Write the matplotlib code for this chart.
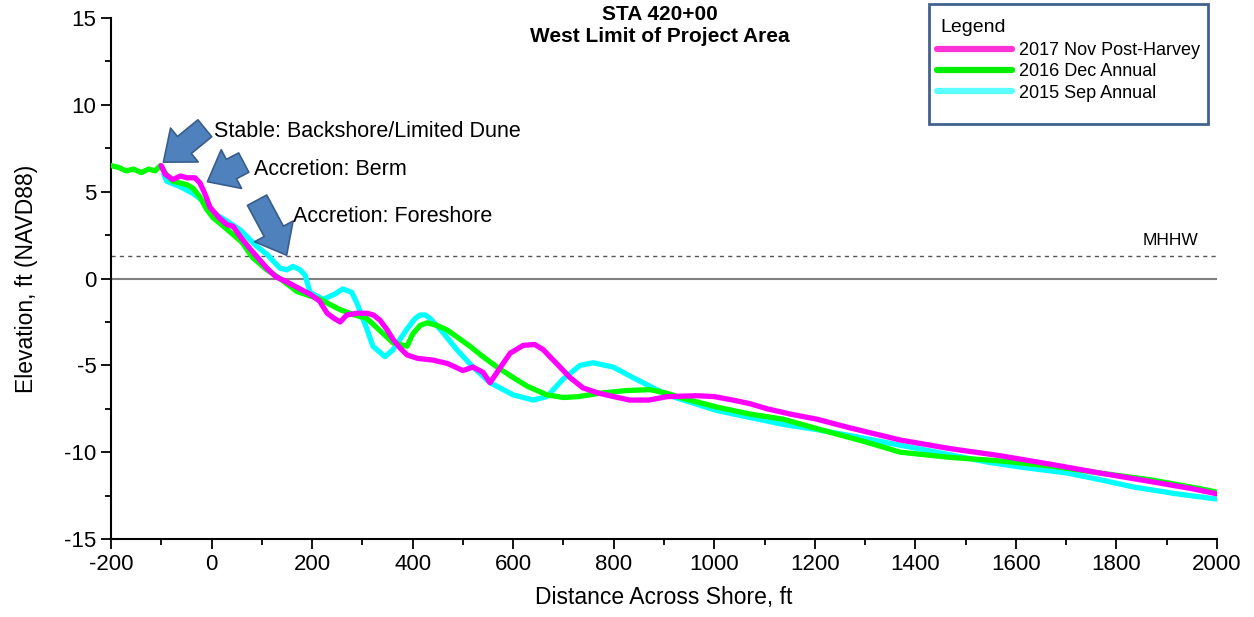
import matplotlib
matplotlib.use("Agg")
import matplotlib.pyplot as plt
from matplotlib.patches import FancyArrowPatch, Rectangle
from matplotlib.ticker import MultipleLocator

plt.rcParams["font.family"] = ["Liberation Sans", "DejaVu Sans"]
plt.rcParams["axes.unicode_minus"] = False

# Beach profile surveys, station 420+00
x_2017 = [-100, -92, -77, -62, -49, -33, -23, -12, -3, 15, 31, 43, 60, 77, 95, 110, 128,
          150, 176, 196, 215, 230, 244, 256, 269, 290, 309, 322, 335, 348, 361, 375, 389,
          410, 441, 470, 500, 520, 540, 554, 575, 594, 620, 643, 660, 673, 690, 713, 739,
          770, 800, 832, 870, 906, 966, 1000, 1037, 1070, 1105, 1150, 1204, 1270, 1370,
          1470, 1568, 1670, 1767, 1870, 1950, 2000]
y_2017 = [6.5, 6.0, 5.7, 5.9, 5.8, 5.8, 5.5, 4.8, 4.1, 3.5, 3.1, 3.0, 2.3, 1.7, 1.1, 0.6, 0.1,
          -0.2, -0.6, -0.9, -1.3, -2.0, -2.3, -2.5, -2.1, -2.0, -2.0, -2.1, -2.4, -2.9, -3.5, -4.0, -4.4,
          -4.6, -4.7, -4.9, -5.3, -5.1, -5.4, -6.0, -5.1, -4.3, -3.85, -3.8, -4.1, -4.5, -5.0, -5.7, -6.3,
          -6.6, -6.8, -7.0, -7.0, -6.8, -6.75, -6.8, -7.0, -7.2, -7.5, -7.8, -8.1, -8.6, -9.3,
          -9.8, -10.2, -10.7, -11.2, -11.7, -12.1, -12.4]

x_2016 = [-200, -185, -170, -155, -140, -125, -112, -102, -90, -77, -62, -49, -37, -23, -10, 3,
          20, 40, 60, 82, 110, 136, 170, 216, 256, 285, 309, 335, 361, 389, 400, 415, 429,
          448, 468, 490, 514, 540, 568, 600, 628, 667, 700, 730, 773, 826, 872, 905, 938,
          1005, 1070, 1137, 1236, 1300, 1370, 1469, 1568, 1670, 1767, 1870, 1966, 2000]
y_2016 = [6.5, 6.4, 6.2, 6.3, 6.1, 6.3, 6.2, 6.5, 6.0, 5.6, 5.5, 5.4, 5.2, 4.7, 4.0, 3.5,
          3.1, 2.6, 2.1, 1.2, 0.5, 0.0, -0.75, -1.2, -1.8, -2.1, -2.3, -3.0, -3.7, -3.9, -3.2, -2.7, -2.55,
          -2.7, -2.95, -3.4, -3.9, -4.5, -5.1, -5.7, -6.2, -6.7, -6.85, -6.8, -6.6, -6.45, -6.4, -6.6, -6.9,
          -7.4, -7.8, -8.1, -8.9, -9.4, -10.0, -10.3, -10.5, -10.8, -11.2, -11.6, -12.1, -12.3]

x_2015 = [-95, -89, -63, -37, -23, 3, 31, 57, 90, 110, 136, 150, 162, 176, 186, 196, 222,
          245, 261, 279, 289, 309, 321, 345, 361, 375, 389, 405, 415, 425, 435, 460, 488,
          520, 554, 600, 640, 667, 699, 733, 759, 799, 838, 906, 1005, 1071, 1137, 1204,
          1280, 1370, 1460, 1549, 1620, 1702, 1770, 1833, 1920, 2000]
y_2015 = [6.0, 5.6, 5.3, 4.9, 4.6, 3.8, 3.3, 2.8, 1.85, 1.4, 0.6, 0.5, 0.7, 0.5, 0.2, -0.8, -1.2,
          -0.9, -0.6, -0.8, -1.4, -2.9, -3.9, -4.5, -4.1, -3.5, -2.9, -2.3, -2.1, -2.1, -2.3, -3.1, -4.1,
          -5.1, -6.0, -6.7, -7.0, -6.8, -5.8, -5.0, -4.85, -5.1, -5.7, -6.7, -7.6, -8.0, -8.4, -8.7,
          -9.1, -9.6, -10.1, -10.6, -10.9, -11.2, -11.6, -12.0, -12.4, -12.7]

# (label, x, y, line colour, legend swatch colour)
series = [
    ("2015 Sep Annual", x_2015, y_2015, "#00FFFF", "#5CFFFF"),
    ("2016 Dec Annual", x_2016, y_2016, "#00FF00", "#00EE00"),
    ("2017 Nov Post-Harvey", x_2017, y_2017, "#FF00FF", "#FF33D6"),
]

MHHW = 1.3

# annotation labels: (text, text x, text y, arrow tail, arrow tip)
notes = [
    ("Stable: Backshore/Limited Dune", 4, 8.45, (-9, 8.75), (-100, 6.6)),
    ("Accretion: Berm", 84, 6.25, (69, 6.75), (-13, 5.5)),
    ("Accretion: Foreshore", 162, 3.55, (88, 4.65), (152, 1.2)),
]

fig = plt.figure(figsize=(12.54, 6.17), dpi=100)
ax = fig.add_axes([0.0885, 0.1264, 0.882, 0.8444])

ax.axhline(0, color="#7F7F7F", lw=1.5, zorder=1)
ax.axhline(MHHW, color="#555555", lw=1.0, ls=(0, (3, 3)), zorder=1)
ax.text(1962, MHHW + 0.45, "MHHW", ha="right", va="bottom", fontsize=12.5)

handles = {}
for label, xs, ys, col, _ in series:
    (ln,) = ax.plot(xs, ys, color=col, lw=3.8, solid_capstyle="round",
                    solid_joinstyle="round", zorder=3, label=label)
    handles[label] = ln

for text, tx, ty, tail, tip in notes:
    arr = FancyArrowPatch(tail, tip, arrowstyle="simple,head_width=2.1,head_length=1.3,tail_width=1.05",
                          mutation_scale=15, facecolor="#4F81BD", edgecolor="#385D8A",
                          lw=1.2, zorder=5)
    ax.add_patch(arr)
    ax.text(tx, ty, text, fontsize=15.5, ha="left", va="center", zorder=6)

ax.set_xlim(-200, 2000)
ax.set_ylim(-15, 15)
ax.xaxis.set_major_locator(MultipleLocator(200))
ax.xaxis.set_minor_locator(MultipleLocator(100))
ax.yaxis.set_major_locator(MultipleLocator(5))
ax.yaxis.set_minor_locator(MultipleLocator(2.5))
ax.tick_params(which="major", direction="out", length=7, width=1.3, labelsize=16)
ax.tick_params(which="minor", direction="out", length=4, width=1.3)
for side in ("top", "right"):
    ax.spines[side].set_visible(False)
for side in ("left", "bottom"):
    ax.spines[side].set_linewidth(1.5)

ax.set_xlabel("Distance Across Shore, ft", fontsize=16.5, labelpad=8)
ax.set_ylabel("Elevation, ft (NAVD88)", fontsize=16.5, labelpad=19)

fig.text(0.526, 0.992, "STA 420+00\nWest Limit of Project Area", ha="center", va="top",
         fontsize=15, fontweight="bold", linespacing=1.2)

# legend frame and heading drawn separately so the padding can be set freely
frame = Rectangle((929 / 1254, 1 - 124 / 617), 279 / 1254, 120 / 617,
                  transform=fig.transFigure, facecolor="white", edgecolor="#41628F",
                  lw=2.0, zorder=10)
fig.add_artist(frame)
fig.text(940 / 1254, 1 - 27 / 617, "Legend", ha="left", va="center", fontsize=14, zorder=11)

order = ["2017 Nov Post-Harvey", "2016 Dec Annual", "2015 Sep Annual"]
swatch = {s[0]: s[4] for s in series}
leg = fig.legend([handles[k] for k in order], order, loc="upper left",
                 bbox_to_anchor=(937 / 1254, 1 - 42 / 617), fontsize=13,
                 handlelength=4.15, handletextpad=0.4, labelspacing=0.24,
                 borderpad=0, frameon=False, borderaxespad=0)
leg.set_zorder(11)
for h, k in zip(leg.legend_handles, order):
    h.set_linewidth(4.5)
    h.set_color(swatch[k])

fig.savefig("out.png", dpi=100)
